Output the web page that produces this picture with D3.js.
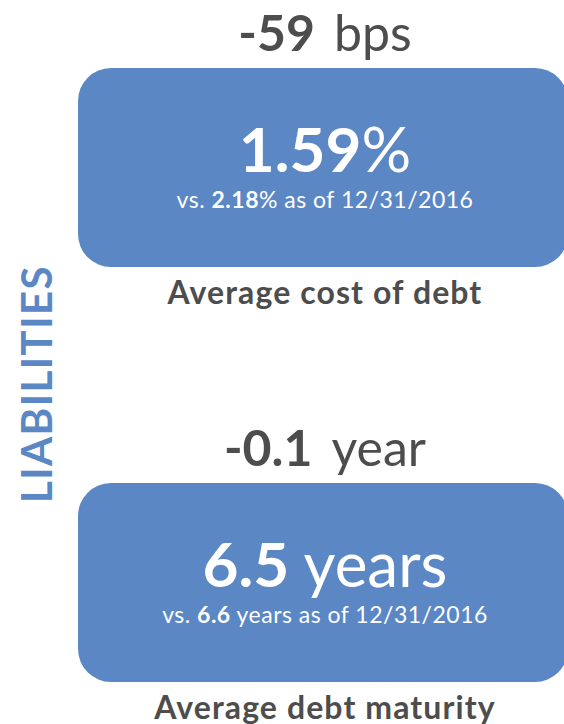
<!DOCTYPE html>
<html>
<head>
<meta charset="utf-8">
<script src="https://cdn.jsdelivr.net/npm/d3@7"></script>
<style>
  html, body { margin: 0; padding: 0; background: #fff; }
  svg { display: block; font-family: Lato, "Open Sans", sans-serif; }
</style>
</head>
<body>
<div id="chart"></div>
<script>
// values
const labels = ["Average cost of debt", "Average debt maturity"];
const changes = ["-59", "-0.1"];
const changeUnits = ["bps", "year"];
const values = ["1.59", "6.5"];
const valueUnits = ["%", " years"];
const priorValues = ["2.18", "6.6"];
const priorUnits = ["%", " years"];
const asOf = "12/31/2016";
const sectionTitle = "LIABILITIES";

const width = 564;
const height = 724;
const blue = "#5b87c5";
const grey = "#4d4d4d";

const svg = d3.select("#chart")
    .append("svg")
    .attr("width", width)
    .attr("height", height);

// two panels stacked vertically
const y = d3.scaleBand()
    .domain(labels)
    .range([0, 830])
    .paddingInner(0);

const boxLeft = 78, boxRight = 568;
const cx = 325;

const panels = svg.selectAll("g.panel")
    .data(labels.map((l, i) => ({label: l, i: i})))
    .enter()
    .append("g")
    .attr("class", "panel")
    .attr("transform", d => `translate(0,${y(d.label)})`);

panels.append("rect")
    .attr("x", boxLeft)
    .attr("y", 68)
    .attr("width", boxRight - boxLeft)
    .attr("height", 199)
    .attr("rx", 33)
    .attr("fill", blue);

// change above the box
const chg = panels.append("text")
    .attr("x", cx)
    .attr("y", 51)
    .attr("text-anchor", "middle")
    .attr("fill", grey)
    .style("font-size", "50px");
chg.append("tspan").style("font-weight", 700).text(d => changes[d.i]);
chg.append("tspan").text(d => "\u00a0\u2009" + changeUnits[d.i]);

// main value
const val = panels.append("text")
    .attr("x", cx)
    .attr("y", 172)
    .attr("text-anchor", "middle")
    .attr("fill", "#fff")
    .style("font-size", "62px");
val.append("tspan").style("font-weight", 700).text(d => values[d.i]);
val.append("tspan").text(d => valueUnits[d.i]);

// comparison line
const vs = panels.append("text")
    .attr("x", cx)
    .attr("y", 208)
    .attr("text-anchor", "middle")
    .attr("fill", "#fff")
    .style("font-size", "23px")
    .style("letter-spacing", "0.5px");
vs.append("tspan").text("vs. ");
vs.append("tspan").style("font-weight", 700).text(d => priorValues[d.i]);
vs.append("tspan").text(d => priorUnits[d.i] + " as of " + asOf);

// label under the box
panels.append("text")
    .attr("x", cx)
    .attr("y", 304)
    .attr("text-anchor", "middle")
    .attr("fill", grey)
    .style("font-size", "32px")
    .style("font-weight", 700)
    .style("letter-spacing", "1.1px")
    .text(d => d.label);

// section title, rotated
svg.append("text")
    .attr("transform", "translate(52,384) rotate(-90)")
    .attr("text-anchor", "middle")
    .attr("fill", blue)
    .style("font-size", "42px")
    .style("font-weight", 700)
    .style("letter-spacing", "1.4px")
    .text(sectionTitle);
</script>
</body>
</html>
